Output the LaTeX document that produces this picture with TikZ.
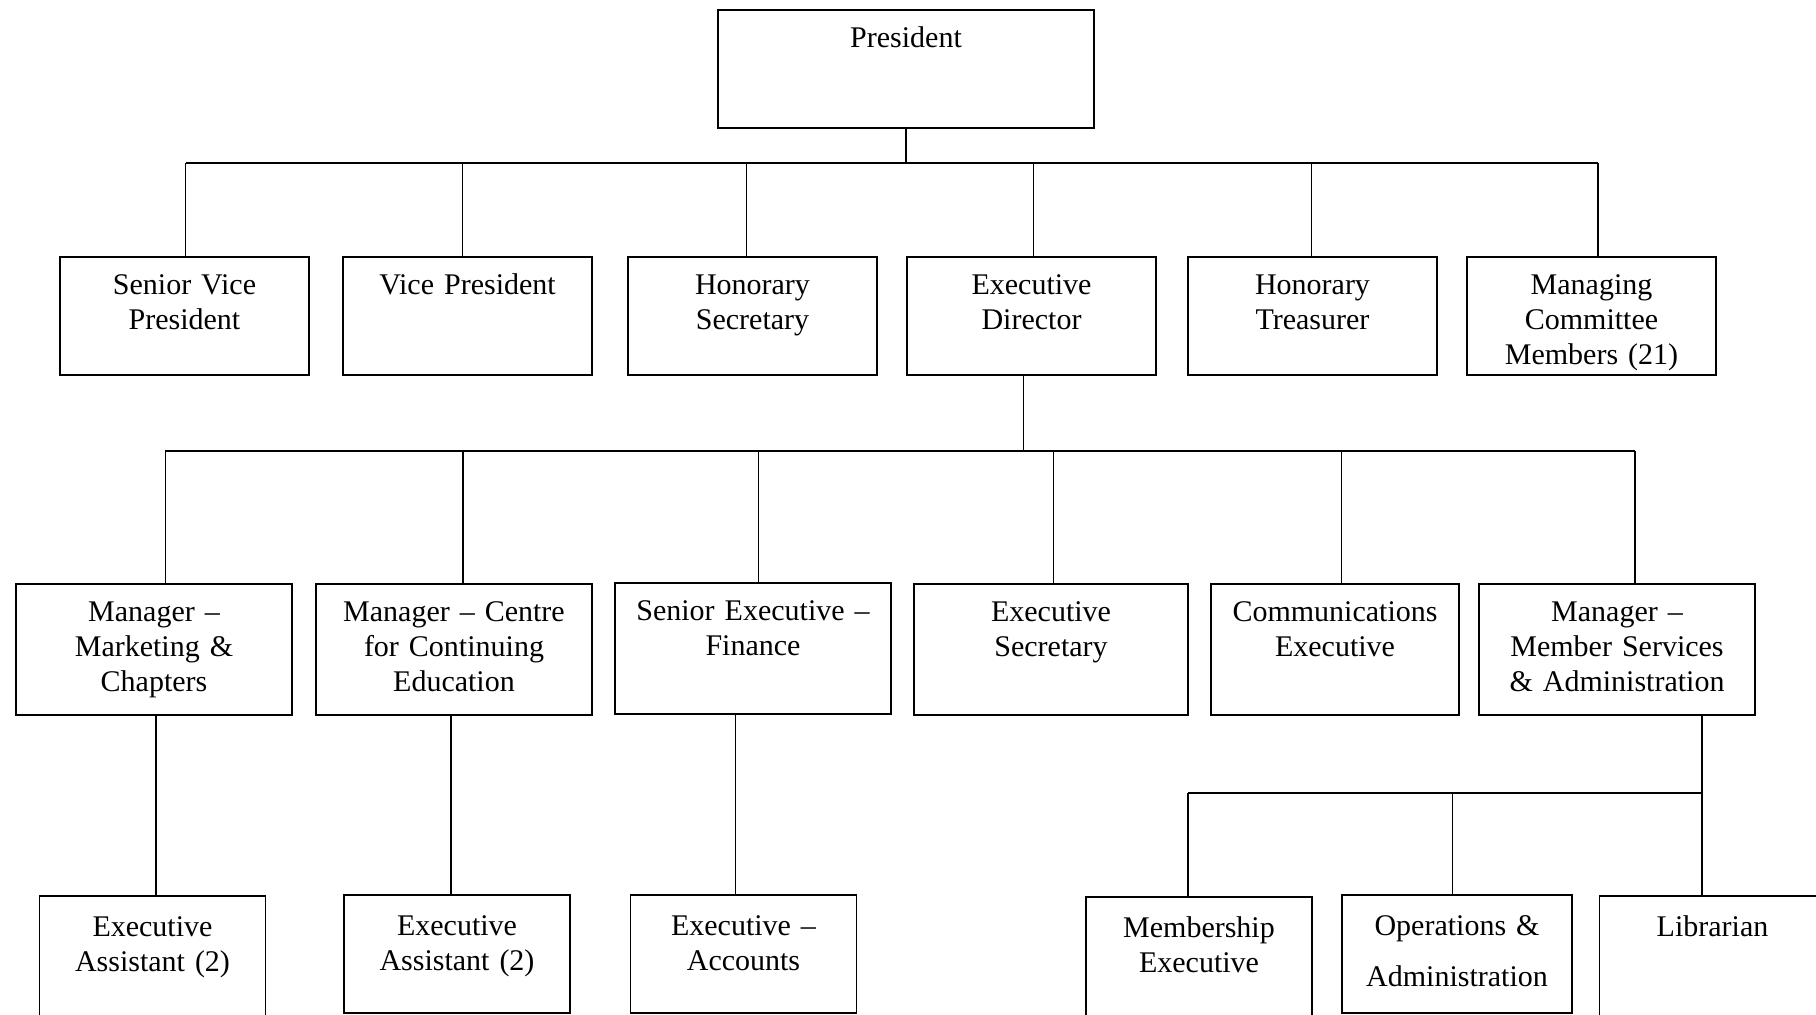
\documentclass[tikz,border=0pt]{standalone}
\usepackage{fontspec}
\setmainfont{Liberation Serif}
\begin{document}
\begin{tikzpicture}[x=0.5pt,y=-0.5pt,
    font=\fontsize{15}{17.4}\selectfont,
    post/.style={draw, line width=0.9pt, inner sep=0pt, align=center, anchor=north, text height=19pt},
    head/.style={post, text width=188pt, text depth=40pt},
    rowone/.style={post, text width=124.5pt, text depth=40pt},
    rowtwo/.style={post, text width=138pt, text depth=46.5pt},
    rowthree/.style={post, text width=113pt, text height=20.5pt, text depth=38.5pt},
    link/.style={line width=0.75pt}]
  \useasboundingbox (0,0) rectangle (1816,1015);

  \node [head] (pres) at (906,9) {President};

  \node [rowone] (svp) at (184.5,256) {Senior Vice\\President};
  \node [rowone] (vp) at (467.5,256) {Vice President};
  \node [rowone] (hsec) at (752.5,256) {Honorary\\Secretary};
  \node [rowone] (ed) at (1031.5,256) {Executive\\Director};
  \node [rowone] (htr) at (1312.5,256) {Honorary\\Treasurer};
  \node [rowone] (mcm) at (1591.5,256) {Managing\\Committee\\Members (21)};

  \node [rowtwo] (mmc) at (154,583) {Manager --\\Marketing \&\\Chapters};
  \node [rowtwo] (mcce) at (454,583) {Manager -- Centre\\for Continuing\\Education};
  \node [rowtwo] (sef) at (753,582) {Senior Executive --\\Finance};
  \node [rowtwo, text width=137pt] (esec) at (1051,583) {Executive\\Secretary};
  \node [rowtwo, text width=124pt] (comm) at (1335,583) {Communications\\Executive};
  \node [rowtwo] (mmsa) at (1617,583) {Manager --\\Member Services\\\& Administration};

  \node [rowthree, text depth=50pt] (ea1) at (152.5,895) {Executive\\Assistant (2)};
  \node [rowthree] (ea2) at (457,894) {Executive\\Assistant (2)};
  \node [rowthree] (eacc) at (743.5,894) {Executive --\\Accounts};
  \node [rowthree, text depth=50pt] (memx) at (1199,896) {Membership\\Executive};
  \node [rowthree, text width=115pt] (ops) at (1457,894) {Operations \&\\[8pt]Administration};
  \node [rowthree, text depth=50pt] (lib) at (1712.5,895) {Librarian};

  \coordinate (busa) at (0,163);
  \coordinate (busb) at (0,451);
  \coordinate (busc) at (0,793);

  \foreach \n/\dx in {svp/0.5,vp/-2.4,hsec/-2.9,ed/0.9,htr/-0.4,mcm/3.3,
                      mmc/5.7,mcce/4.4,sef/2.7,esec/1.3,comm/3.3,mmsa/8.9,
                      ea1/1.8,ea2/-2.9,eacc/-4.1,memx/-5.5,ops/-2.2,lib/-5.3}
    \coordinate (\n-up) at ([xshift=\dx pt]\n.north);
  \coordinate (ed-dn) at ([xshift=-3.9pt]ed.south);

  \draw [link] (pres.south) -- (pres.south |- busa);
  \draw [link] (svp-up |- busa) -- (mcm-up |- busa);
  \foreach \n in {svp,vp,hsec,ed,htr,mcm}
    \draw [link] (\n-up) -- (\n-up |- busa);

  \draw [link] (ed-dn) -- (ed-dn |- busb);
  \draw [link] (mmc-up |- busb) -- (mmsa-up |- busb);
  \foreach \n in {mmc,mcce,sef,esec,comm,mmsa}
    \draw [link] (\n-up) -- (\n-up |- busb);

  \draw [link] (mmc.south -| ea1-up) -- (ea1-up);
  \draw [link] (mcce.south -| ea2-up) -- (ea2-up);
  \draw [link] (sef.south -| eacc-up) -- (eacc-up);

  \draw [link] (mmsa.south -| lib-up) -- (lib-up);
  \draw [link] (memx-up |- busc) -- (lib-up |- busc);
  \foreach \n in {memx,ops}
    \draw [link] (\n-up) -- (\n-up |- busc);
\end{tikzpicture}
\end{document}
